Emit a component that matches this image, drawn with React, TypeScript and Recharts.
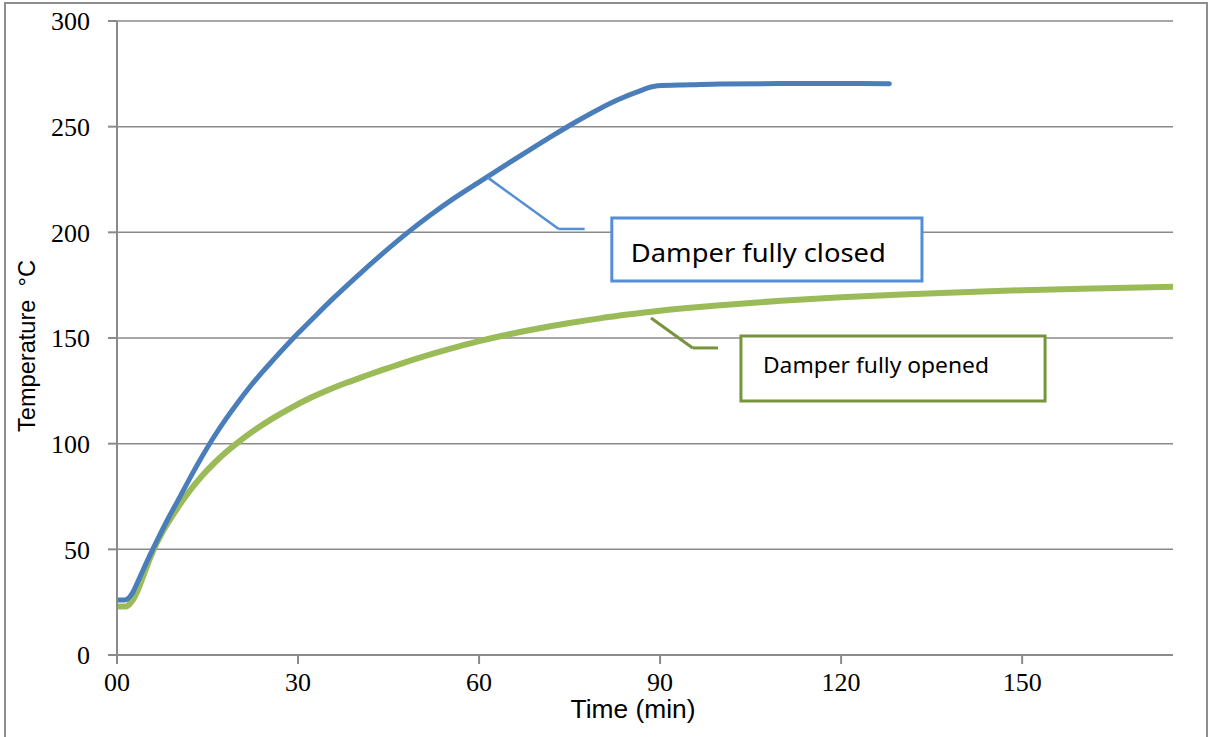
import {
  LineChart, Line, XAxis, YAxis, CartesianGrid, ReferenceLine, ReferenceArea,
} from "recharts";

// temperature curves (time in min, temp in degC)
const closedTimes = [0, 1.3, 2.5, 3.5, 4.5, 5.5, 7, 8.5, 10, 12, 14, 16, 18, 20, 22, 24, 26, 28, 30, 33, 36, 40, 44, 48, 52, 56, 60, 64, 68, 72, 76, 80, 83, 86, 89.6, 95, 100, 110, 120, 128];
const closedTemps = [26, 26, 29, 35, 41.3, 47.5, 56.3, 64.7, 72.6, 83.2, 93.4, 102.9, 111.5, 119.4, 126.8, 133.6, 140, 146.2, 152.2, 160.8, 169.2, 179.8, 189.9, 199.5, 208.3, 216.4, 223.8, 231.1, 238.3, 245.4, 252.2, 258.5, 262.7, 266.2, 269.4, 269.8, 270.2, 270.4, 270.4, 270.3];

const openedTimes = [0, 1.5, 2.5, 3.5, 4.5, 5.5, 6.5, 7.5, 9, 10.5, 12, 14, 16, 18, 20, 23, 26, 29, 32, 35, 38, 41, 44, 47, 51, 55, 60, 65, 70, 75, 80, 85, 90, 95, 100, 105, 110, 120, 130, 140, 150, 160, 175];
const openedTemps = [23, 23, 25.5, 31, 38.5, 46, 52.5, 58, 65, 71.5, 77.5, 84.5, 90.5, 95.8, 100.5, 106.8, 112.3, 117.2, 121.6, 125.4, 128.8, 131.9, 134.9, 137.8, 141.4, 144.7, 148.5, 151.8, 154.6, 157.1, 159.3, 161.2, 162.9, 164.3, 165.5, 166.6, 167.6, 169.3, 170.6, 171.7, 172.6, 173.3, 174.2];

const xTicks = [0, 30, 60, 90, 120, 150];
const yTicks = [0, 50, 100, 150, 200, 250, 300];

// callouts: leader polyline and box, in data units
const closedLeader = [
  { x: 61.4, y: 226 }, { x: 73.2, y: 201.6 }, { x: 77.5, y: 201.6 },
];
const closedBox = { x1: 82, x2: 133.4, y1: 177, y2: 206.8 };
const openedLeader = [
  { x: 88.5, y: 159.5 }, { x: 95.4, y: 145.3 }, { x: 99.6, y: 145.3 },
];
const openedBox = { x1: 103.4, x2: 153.8, y1: 120.2, y2: 150.9 };

const BLUE = "#4A7EBB";
const GREEN = "#9BBB59";
const GRID = "#8a8a8a";

const closedData = closedTimes.map((t, i) => ({ t, temp: closedTemps[i] }));
const openedData = openedTimes.map((t, i) => ({ t, temp: openedTemps[i] }));

function BoxText(props: any) {
  const { viewBox, text, dx, dy, size, len } = props;
  if (!viewBox) return null;
  return (
    <text
      x={viewBox.x + dx}
      y={viewBox.y + dy}
      fontFamily="'Noto Sans', sans-serif"
      fontSize={size}
      fill="#000"
      textLength={len}
      lengthAdjust="spacingAndGlyphs"
    >
      {text}
    </text>
  );
}

function YTitle(props: any) {
  const { viewBox } = props;
  const cx = viewBox.x + 26;
  const cy = viewBox.y + viewBox.height / 2 + 8;
  return (
    <text
      x={cx}
      y={cy}
      transform={`rotate(-90, ${cx}, ${cy})`}
      textAnchor="middle"
      dominantBaseline="central"
      fontFamily="'Liberation Sans', Arial, sans-serif"
      fontSize={24}
      textLength={172}
      lengthAdjust="spacingAndGlyphs"
      fill="#000"
    >
      {"Temperature\u00a0\u00a0°C"}
    </text>
  );
}

function XTitle(props: any) {
  const { viewBox } = props;
  const cx = viewBox.x + viewBox.width / 2 - 12;
  return (
    <text
      x={cx}
      y={viewBox.y + 63}
      textAnchor="middle"
      fontFamily="'Liberation Sans', Arial, sans-serif"
      fontSize={25}
      textLength={125}
      lengthAdjust="spacingAndGlyphs"
      fill="#000"
    >
      Time (min)
    </text>
  );
}

const tickStyle = { fontFamily: "'Liberation Serif', serif", fontSize: 26, fill: "#000" };

export default function App() {
  return (
    <div style={{ position: "absolute", left: 0, top: 0, width: 1211, height: 737, background: "#fff", overflow: "hidden" }}>
      <div style={{ position: "absolute", left: 4, top: 2, width: 1204, height: 760, border: "2px solid #8e8e8e", boxSizing: "border-box" }} />
      <LineChart
        width={1211}
        height={737}
        margin={{ top: 21, right: 38, bottom: 42, left: 0 }}
        style={{ position: "absolute", left: 0, top: 0 }}
      >
        <CartesianGrid vertical={false} stroke={GRID} strokeWidth={1.5} />
        <XAxis
          dataKey="t"
          type="number"
          domain={[0, 175]}
          ticks={xTicks}
          allowDataOverflow
          height={40}
          stroke={GRID}
          strokeWidth={2}
          tickSize={9}
          tickMargin={9}
          tick={tickStyle}
          tickFormatter={(v: number) => (v === 0 ? "00" : String(v))}
          label={<XTitle />}
        />
        <YAxis
          type="number"
          domain={[0, 300]}
          ticks={yTicks}
          width={117}
          stroke={GRID}
          strokeWidth={2}
          tickSize={9}
          tickMargin={18}
          tick={tickStyle}
          label={<YTitle />}
        />
        <Line
          data={openedData}
          dataKey="temp"
          type="monotone"
          stroke={GREEN}
          strokeWidth={6}
          strokeLinecap="round"
          dot={false}
          activeDot={false}
          isAnimationActive={false}
        />
        <Line
          data={closedData}
          dataKey="temp"
          type="monotone"
          stroke={BLUE}
          strokeWidth={5}
          strokeLinecap="round"
          dot={false}
          activeDot={false}
          isAnimationActive={false}
        />
        <ReferenceLine segment={[closedLeader[0], closedLeader[1]]} stroke="#558ED5" strokeWidth={2.5} />
        <ReferenceLine segment={[closedLeader[1], closedLeader[2]]} stroke="#558ED5" strokeWidth={2.5} />
        <ReferenceLine segment={[openedLeader[0], openedLeader[1]]} stroke="#77933C" strokeWidth={3} />
        <ReferenceLine segment={[openedLeader[1], openedLeader[2]]} stroke="#77933C" strokeWidth={3} />
        <ReferenceArea
          {...closedBox}
          fill="#fff"
          fillOpacity={1}
          stroke="#558ED5"
          strokeWidth={3}
          label={<BoxText text="Damper fully closed" dx={19} dy={44} size={26} len={255} />}
        />
        <ReferenceArea
          {...openedBox}
          fill="#fff"
          fillOpacity={1}
          stroke="#77933C"
          strokeWidth={3}
          label={<BoxText text="Damper fully opened" dx={22} dy={37} size={22} len={226} />}
        />
      </LineChart>
    </div>
  );
}
